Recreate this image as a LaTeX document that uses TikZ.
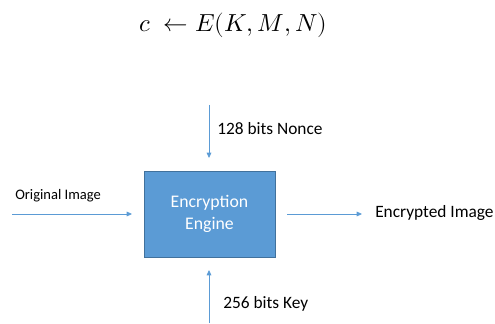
\documentclass[tikz,border=0pt]{standalone}
\usepackage{fontspec}
\usepackage{unicode-math}
\setmainfont{Carlito}
\setmathfont{Latin Modern Math}
\usetikzlibrary{arrows.meta}
\definecolor{boxblue}{HTML}{5B9BD5}
\definecolor{boxedge}{HTML}{41719C}
\definecolor{arrowblue}{HTML}{5B9BD5}
\tikzset{
  conn/.style={draw=arrowblue, line width=0.6pt, -{Triangle[length=4pt,width=3.5pt]}},
  lbl/.style={inner sep=0pt, text=black},
}
\begin{document}
\begin{tikzpicture}[x=0.75pt,y=-0.75pt]
\useasboundingbox (0,0) rectangle (495,324);
\node[lbl, font=\fontsize{18.5}{22}\selectfont] (eq) at (233.5,25) {$c\ \leftarrow E(K,M,N)$};
\node[draw=boxedge, fill=boxblue, minimum width=131*0.75pt, minimum height=86*0.75pt, inner sep=0pt, text=white, align=center, font=\fontsize{13.3}{16}\selectfont] (eng) at (209.5,214) {Encryption\\Engine};
\coordinate (nt) at (209,105);
\coordinate (nb) at (209,158);
\coordinate (kb) at (209,323);
\coordinate (kt) at (209,270);
\coordinate (ls) at (12,214);
\coordinate (le) at (132,214);
\coordinate (rs) at (287,214);
\coordinate (re) at (362,214);
\draw[conn] (nt) -- (nb);
\draw[conn] (kb) -- (kt);
\draw[conn] (ls) -- (le);
\draw[conn] (rs) -- (re);
\node[lbl, anchor=west, font=\fontsize{13}{15}\selectfont] (nonce) at (217,129) {128 bits Nonce};
\node[lbl, anchor=west, font=\fontsize{13}{15}\selectfont] (key) at (223,304) {256 bits Key};
\node[lbl, anchor=west, font=\fontsize{10.9}{13}\selectfont] (orig) at (15,196) {Original Image};
\node[lbl, anchor=west, font=\fontsize{13}{16}\selectfont] (enc) at (375,213) {Encrypted Image};
\end{tikzpicture}
\end{document}
